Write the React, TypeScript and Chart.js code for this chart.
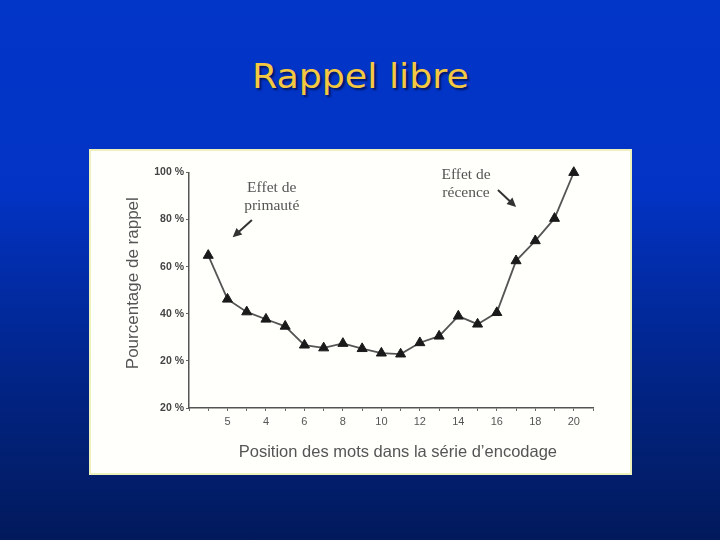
import React, { useEffect, useRef } from 'react';
import { Chart, registerables } from 'chart.js';

Chart.register(...registerables);

// ---- data ----
const positions = [1, 2, 3, 4, 5, 6, 7, 8, 9, 10, 11, 12, 13, 14, 15, 16, 17, 18, 19, 20];
const recallPct = [64.8, 46.2, 40.8, 37.7, 34.7, 26.7, 25.5, 27.4, 25.2, 23.3, 22.9, 27.7, 30.5, 39.0, 35.6, 40.5, 62.5, 71.0, 80.5, 100];
const xTickLabels = ['', '', '5', '', '4', '', '6', '', '8', '', '10', '', '12', '', '14', '', '16', '', '18', '', '20', ''];
const yTickLabels = ['20 %', '20 %', '40 %', '60 %', '80 %', '100 %'];
const noteLines = [['Effet de', 'primauté'], ['Effet de', 'récence']];
const noteX = [4.3, 14.4];
const noteY = [93.6, 98.9];
const arrowFromX = [3.27, 16.06];
const arrowFromY = [79.8, 92.6];
const arrowToX = [2.27, 17.0];
const arrowToY = [72.5, 85.4];

const notesPlugin = {
  id: 'notes',
  afterDatasetsDraw(chart: any) {
    const { ctx } = chart;
    const xs = chart.scales.x;
    const ys = chart.scales.y;
    ctx.save();
    ctx.font = '15.5px "Liberation Serif", "DejaVu Serif", serif';
    ctx.fillStyle = '#555';
    ctx.textAlign = 'center';
    ctx.textBaseline = 'middle';
    noteLines.forEach((lines, i) => {
      const px = xs.getPixelForValue(noteX[i]);
      const py = ys.getPixelForValue(noteY[i]);
      lines.forEach((l, j) => ctx.fillText(l, px, py + j * 18));
    });
    ctx.strokeStyle = '#333';
    ctx.fillStyle = '#333';
    ctx.lineWidth = 2;
    arrowFromX.forEach((_, i) => {
      const x1 = xs.getPixelForValue(arrowFromX[i]);
      const y1 = ys.getPixelForValue(arrowFromY[i]);
      const x2 = xs.getPixelForValue(arrowToX[i]);
      const y2 = ys.getPixelForValue(arrowToY[i]);
      const ang = Math.atan2(y2 - y1, x2 - x1);
      const head = 10;
      ctx.beginPath();
      ctx.moveTo(x1, y1);
      ctx.lineTo(x2 - head * 0.8 * Math.cos(ang), y2 - head * 0.8 * Math.sin(ang));
      ctx.stroke();
      ctx.beginPath();
      ctx.moveTo(x2, y2);
      ctx.lineTo(x2 - head * Math.cos(ang - 0.45), y2 - head * Math.sin(ang - 0.45));
      ctx.lineTo(x2 - head * Math.cos(ang + 0.45), y2 - head * Math.sin(ang + 0.45));
      ctx.closePath();
      ctx.fill();
    });
    ctx.restore();
  },
};

export default function App() {
  const canvasRef = useRef<HTMLCanvasElement | null>(null);

  useEffect(() => {
    if (!canvasRef.current) return;
    const chart = new Chart(canvasRef.current, {
      type: 'line',
      data: {
        datasets: [
          {
            data: positions.map((p, i) => ({ x: p, y: recallPct[i] })),
            borderColor: '#555',
            borderWidth: 1.8,
            pointStyle: 'triangle',
            pointRadius: 5.8,
            pointBackgroundColor: '#1a1a1a',
            pointBorderColor: '#1a1a1a',
            pointBorderWidth: 1,
            tension: 0,
            clip: false as any,
          },
        ],
      },
      options: {
        animation: false,
        responsive: false,
        maintainAspectRatio: false,
        layout: { padding: { left: 119, top: 172.5, right: 127, bottom: 74 } },
        plugins: {
          legend: { display: false },
          tooltip: { enabled: false },
          title: { display: false },
        },
        scales: {
          x: {
            type: 'linear',
            min: 0,
            max: 21,
            afterFit: (s: any) => {
              s.height = 58;
            },
            ticks: {
              stepSize: 1,
              autoSkip: false,
              maxRotation: 0,
              padding: 4,
              color: '#555',
              font: { size: 11, family: '"Liberation Sans", Arial, sans-serif' },
              callback: (v: any) => xTickLabels[v] ?? '',
            },
            grid: { drawOnChartArea: false, tickLength: 3, color: '#666' },
            border: { color: '#555', width: 1.5 },
            title: {
              display: true,
              text: '   Position des mots dans la série d\u2019encodage',
              color: '#555',
              font: { size: 16.5, family: '"Liberation Sans", Arial, sans-serif' },
            },
          },
          y: {
            type: 'linear',
            min: 0,
            max: 100,
            afterFit: (s: any) => {
              s.width = 70;
            },
            ticks: {
              stepSize: 20,
              padding: 2,
              color: '#444',
              font: { size: 10.5, weight: 'bold', family: '"Liberation Sans", Arial, sans-serif' },
              callback: (_v: any, i: number) => yTickLabels[i],
            },
            grid: { drawOnChartArea: false, tickLength: 3, color: '#666' },
            border: { color: '#555', width: 1.5 },
            title: {
              display: true,
              text: '   Pourcentage de rappel',
              color: '#555',
              font: { size: 17, family: '"Liberation Sans", Arial, sans-serif' },
            },
          },
        },
      },
      plugins: [notesPlugin],
    } as any);
    return () => chart.destroy();
  }, []);

  return (
    <div
      style={{
        position: 'fixed',
        left: 0,
        top: 0,
        width: 720,
        height: 540,
        overflow: 'hidden',
        background: 'linear-gradient(180deg, #0236c8 0%, #0233c4 35%, #01227e 75%, #021a5c 100%)',
      }}
    >
      <div
        style={{
          position: 'absolute',
          left: 0,
          top: 59,
          width: 720,
          textAlign: 'center',
          lineHeight: '34px',
        }}
      >
        <span
          style={{
            display: 'inline-block',
            fontFamily: '"DejaVu Sans", Verdana, sans-serif',
            fontSize: 34,
            color: '#f5c842',
            transform: 'scaleX(1.07)',
            textShadow: '2px 2px 2px rgba(0,0,30,0.6)',
          }}
        >
          Rappel libre
        </span>
      </div>
      <div
        style={{
          position: 'absolute',
          left: 89,
          top: 149,
          width: 539,
          height: 322,
          background: '#fffffb',
          border: '2px solid #eef1bc',
        }}
      />
      <canvas
        ref={canvasRef}
        width={720}
        height={540}
        style={{ position: 'absolute', left: 0, top: 0, width: 720, height: 540, display: 'block' }}
      />
    </div>
  );
}
